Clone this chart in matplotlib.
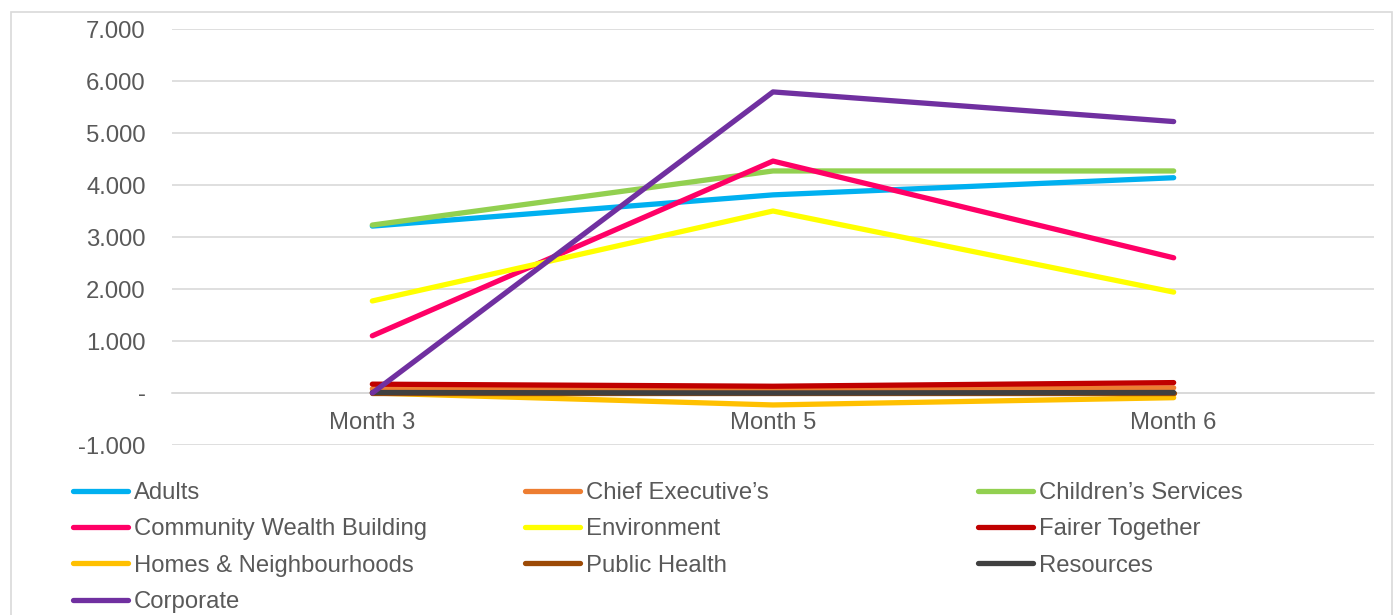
import matplotlib.pyplot as plt
from matplotlib.patches import Rectangle
from matplotlib.ticker import FuncFormatter

plt.rcParams["font.family"] = ["Liberation Sans", "DejaVu Sans"]

months = ["Month 3", "Month 5", "Month 6"]

adults = [3.21, 3.81, 4.14]
chief_exec = [0.08, 0.07, 0.10]
childrens = [3.23, 4.27, 4.27]
cwb = [1.10, 4.46, 2.60]
environment = [1.77, 3.50, 1.94]
fairer = [0.17, 0.13, 0.20]
homes = [0.00, -0.23, -0.09]
public_health = [0.00, 0.00, 0.00]
resources = [0.01, 0.00, 0.01]
corporate = [0.00, 5.79, 5.22]

series = [
    ("Adults", adults, "#00B0F0"),
    ("Chief Executive\u2019s", chief_exec, "#ED7D31"),
    ("Children\u2019s Services", childrens, "#92D050"),
    ("Community Wealth Building", cwb, "#FF0066"),
    ("Environment", environment, "#FFFF00"),
    ("Fairer Together", fairer, "#C00000"),
    ("Homes & Neighbourhoods", homes, "#FFC000"),
    ("Public Health", public_health, "#9C4A06"),
    ("Resources", resources, "#404040"),
    ("Corporate", corporate, "#7030A0"),
]

W, H = 1397, 615
fig = plt.figure(figsize=(W / 100, H / 100), dpi=100)
fig.patches.append(Rectangle((11 / W, -0.1), (1392 - 11) / W, 1.1 - 12 / H,
                             transform=fig.transFigure, fill=False,
                             edgecolor="#D9D9D9", linewidth=1.2))

ax = fig.add_axes([172 / W, 1 - 445 / H, (1374 - 172) / W, (445 - 29) / H])

x = list(range(len(months)))
handles = []
for name, vals, col in series:
    (ln,) = ax.plot(x, vals, color=col, linewidth=3.8, solid_capstyle="round",
                    solid_joinstyle="round", label=name)
    handles.append(ln)

ax.set_xlim(-0.5, len(months) - 0.5)
ax.set_ylim(-1, 7)
ax.set_yticks(range(-1, 8))
ax.yaxis.set_major_formatter(FuncFormatter(
    lambda v, p: "-" if abs(v) < 1e-9 else f"{v:.3f}"))
ax.set_xticks(x)
ax.set_xticklabels(months)
ax.grid(axis="y", color="#D9D9D9", linewidth=1.2)
ax.set_axisbelow(True)
for s in ["top", "right", "left"]:
    ax.spines[s].set_visible(False)
ax.spines["bottom"].set_position(("data", 0))
ax.spines["bottom"].set_color("#D9D9D9")
ax.spines["bottom"].set_linewidth(1.2)
ax.spines["bottom"].set_zorder(0)
ax.tick_params(axis="both", length=0, labelsize=17.2, labelcolor="#595959")
ax.tick_params(axis="y", pad=19)
ax.tick_params(axis="x", pad=14)

# legend in three fixed columns, row-major order like the original
col_x = [73, 525, 978]
for c in range(3):
    hs = handles[c::3]
    leg = fig.legend(handles=hs, labels=[h.get_label() for h in hs],
                     loc="upper left", bbox_to_anchor=(col_x[c] / W, 1 - 482 / H),
                     frameon=False, fontsize=17.2, labelcolor="#595959",
                     handlelength=2.3, handletextpad=0.25, labelspacing=0.6,
                     borderpad=0, borderaxespad=0)
    for ln in leg.get_lines():
        ln.set_linewidth(3.8)

fig.savefig("out.png", dpi=100)
